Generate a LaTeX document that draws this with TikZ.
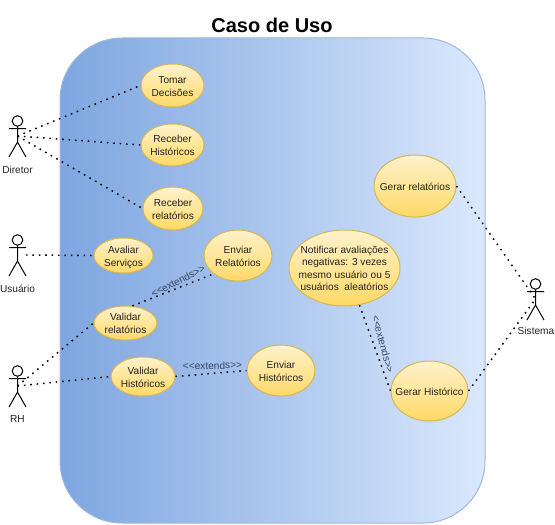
\documentclass[tikz,border=0pt]{standalone}
\usepackage{fontspec}
\setmainfont{Liberation Sans}
\usetikzlibrary{shapes.geometric}
\definecolor{bgl}{HTML}{7EA6E0}
\definecolor{bgr}{HTML}{DAE8FC}
\definecolor{bgs}{HTML}{9DB8E0}
\definecolor{uct}{HTML}{FFF2CC}
\definecolor{ucb}{HTML}{FFD966}
\definecolor{ucs}{HTML}{D6B656}
\definecolor{txt}{HTML}{222222}
\definecolor{lbl}{HTML}{3A4660}
\newcommand\uctext[1]{\makebox[0pt]{\smash{\raisebox{-3.2pt}{\begin{tabular}[c]{@{}c@{}}#1\end{tabular}}}}}
\newcommand\exttext{<{}<extends>{}>}
\tikzset{
  x=0.75pt,y=-0.75pt,
  usecase/.style={ellipse,draw=ucs,line width=0.75pt,top color=uct,bottom color=ucb,
    inner sep=0pt,font=\fontsize{7.6pt}{10pt}\selectfont,text=txt},
  assoc/.style={draw=black,line width=1.1pt,dash pattern=on 1.2pt off 3.6pt},
  actorlabel/.style={font=\fontsize{7.6pt}{10pt}\selectfont,text=txt,inner sep=0pt},
  extlabel/.style={font=\fontsize{7.6pt}{10pt}\selectfont,text=lbl,inner sep=0pt},
  actor/.pic={
    \draw[line width=0.75pt,black] (0,-15) circle[radius=5.3];
    \draw[line width=0.75pt,black] (0,-9.7) -- (0,6) (-8.5,-7.5) -- (8.5,-7.5)
      (-8.5,21) -- (0,6) -- (8.5,21);
    \coordinate (-c) at (0,0);
    \coordinate (-e) at (8.5,0);
  }
}
\begin{document}
\begin{tikzpicture}
\useasboundingbox (0,0) rectangle (555,524);
\node[inner sep=0pt,font=\fontsize{15pt}{18pt}\bfseries\selectfont] (title) at (272,25) {Caso de Uso};
\draw[draw=bgs,line width=0.75pt,left color=bgl,right color=bgr,rounded corners=46.5pt] (60,38) rectangle (485,523);

\node[usecase,minimum width=47.25pt,minimum height=32.25pt] (tomar) at (172.5,85.5) {\uctext{Tomar\\Decisões}};
\node[usecase,minimum width=47.25pt,minimum height=31.5pt] (rhist) at (172.5,145) {\uctext{Receber\\Históricos}};
\node[usecase,minimum width=45pt,minimum height=32.25pt] (rrel) at (173,208.5) {\uctext{Receber\\relatórios}};
\node[usecase,minimum width=44.25pt,minimum height=26.25pt] (aval) at (123.5,255.5) {\uctext{Avaliar\\Serviços}};
\node[usecase,minimum width=51pt,minimum height=38.25pt] (erel) at (238,255.5) {\uctext{Enviar\\Relatórios}};
\node[usecase,minimum width=47.25pt,minimum height=25.5pt] (vrel) at (125.5,323) {\uctext{Validar\\relatórios}};
\node[usecase,minimum width=48pt,minimum height=29.25pt] (vhist) at (143,376.5) {\uctext{Validar\\Históricos}};
\node[usecase,minimum width=51pt,minimum height=38.25pt] (ehist) at (281,370.5) {\uctext{Enviar\\Históricos}};
\node[usecase,minimum width=61.5pt,minimum height=46.5pt] (grel) at (415,186) {\uctext{Gerar relatórios}};
\node[usecase,minimum width=83.25pt,minimum height=57pt,font=\fontsize{7.6pt}{9.4pt}\selectfont] (notif) at (344.5,268) {\uctext{Notificar avaliações\\negativas: 3 vezes\\mesmo usuário ou 5\\usuários\ \ aleatórios}};
\node[usecase,minimum width=57.75pt,minimum height=45pt] (ghist) at (429.5,391) {\uctext{Gerar Histórico}};

\pic (dir) at (17.5,136) {actor};
\pic (usu) at (17.5,255) {actor};
\pic (rh) at (17.5,386) {actor};
\pic (sis) at (535.5,299) {actor};
\node[actorlabel] (ldir) at (17.5,169.5) {Diretor};
\node[actorlabel] (lusu) at (17.5,288.5) {Usuário};
\node[actorlabel] (lrh) at (17.5,419.5) {RH};
\node[actorlabel] (lsis) at (536,331) {Sistema};

\draw[assoc] (dir-c) -- (tomar.west);
\draw[assoc] (dir-c) -- (rhist.west);
\draw[assoc] (dir-c) -- (rrel.west);
\draw[assoc] (usu-e) -- (aval.west);
\draw[assoc] (rh-c) -- (vrel.west);
\draw[assoc] (rh-c) -- (vhist.west);
\draw[assoc] (vrel.68) -- (erel.217);
\draw[assoc] (vhist.east) -- (ehist.west);
\draw[assoc] (grel.east) -- (sis-c);
\draw[assoc] (ghist.east) -- (sis-c);
\draw[assoc] (notif.-68) -- (ghist.west);

\node[extlabel,rotate=27] (ext1) at (178,281) {\exttext};
\node[extlabel,rotate=1] (ext2) at (212.5,365.5) {\exttext};
\node[extlabel,rotate=-75] (ext3) at (383,344) {\exttext};
\end{tikzpicture}
\end{document}
